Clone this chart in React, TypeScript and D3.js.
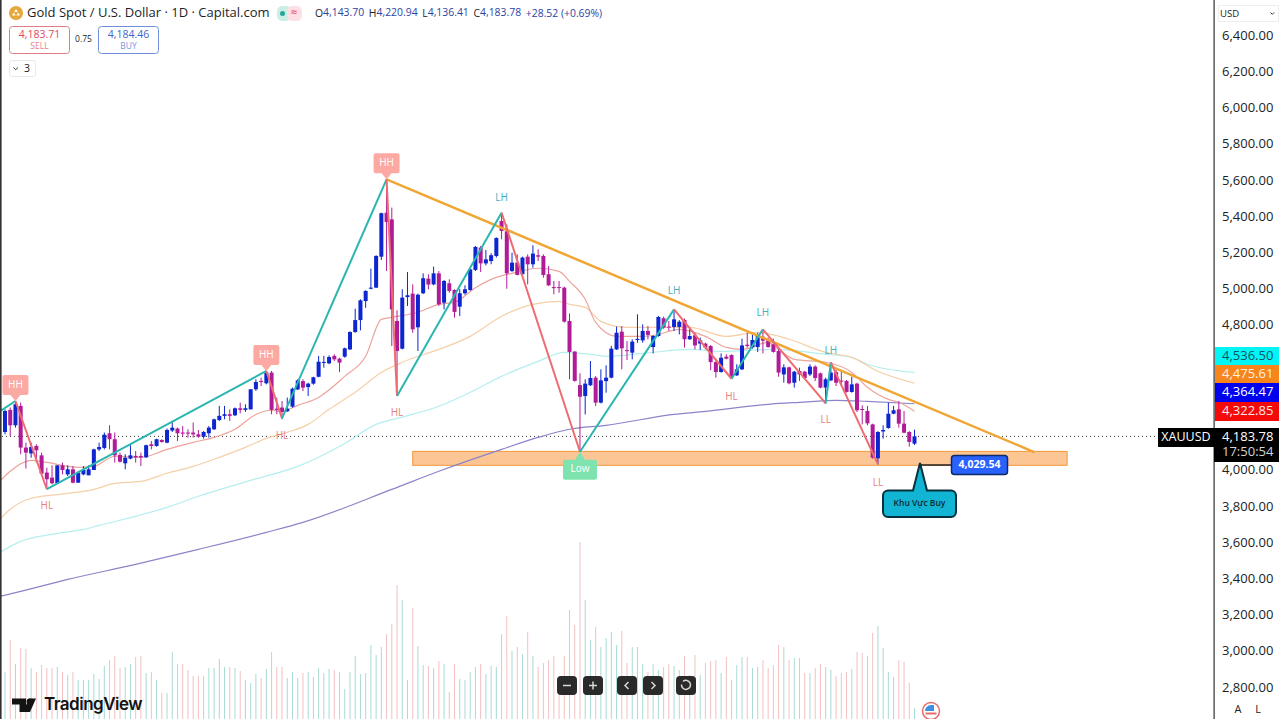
import { useEffect, useRef } from 'react';
import * as d3 from 'd3';

type Candle = [number, number, number, number];
type Pt = [number, number];

// open, high, low, close, one row per daily bar
const candles: Candle[] = [
  [4208,4333,4195,4324],[4330,4343,4186,4245],[4245,4379,4232,4361],[4352,4370,4085,4122],[4122,4149,4006,4094],
  [4090,4149,4066,4125],[4131,4140,4039,4107],[4079,4094,3974,3978],[3984,4011,3895,3947],[3956,4024,3919,3925],
  [3925,4024,3923,4024],[4024,4039,3974,3998],[3974,4024,3965,4002],[4002,4020,3925,3928],[3928,3993,3928,3984],
  [3974,4020,3969,3998],[3969,4024,3969,4002],[3998,4116,3998,4112],[4112,4149,4103,4125],[4120,4205,4112,4193],
  [4201,4245,4112,4168],[4168,4205,4039,4079],[4081,4094,4039,4044],[4035,4085,4002,4066],[4061,4135,4057,4079],
  [4076,4103,4039,4068],[4076,4094,4020,4068],[4068,4138,4065,4135],[4140,4158,4112,4131],[4131,4171,4127,4168],
  [4164,4168,4149,4153],[4149,4227,4146,4219],[4216,4269,4208,4232],[4227,4232,4158,4201],[4205,4241,4182,4199],
  [4205,4223,4177,4199],[4205,4260,4177,4195],[4195,4219,4177,4182],[4182,4214,4171,4208],[4201,4241,4177,4232],
  [4223,4282,4219,4278],[4274,4352,4269,4297],[4297,4352,4278,4306],[4306,4333,4269,4297],[4300,4343,4297,4339],
  [4339,4370,4311,4330],[4330,4361,4319,4339],[4333,4444,4333,4444],[4444,4499,4435,4484],[4490,4508,4462,4484],
  [4477,4545,4471,4536],[4536,4545,4306,4330],[4337,4398,4306,4330],[4343,4379,4278,4319],[4322,4398,4319,4337],
  [4348,4453,4342,4447],[4443,4499,4440,4493],[4489,4499,4434,4453],[4456,4480,4407,4475],[4475,4513,4469,4510],
  [4513,4628,4510,4596],[4590,4628,4563,4595],[4587,4631,4582,4622],[4628,4637,4600,4609],[4613,4618,4539,4591],
  [4624,4674,4618,4670],[4664,4764,4661,4760],[4760,4889,4756,4826],[4826,4941,4769,4935],[4931,4990,4894,4987],
  [4999,5110,4996,5005],[5005,5184,5003,5180],[5176,5419,5158,5416],[5419,5603,5097,5368],[5382,5447,4683,4885],
  [4821,4880,4407,4655],[4668,4996,4664,4950],[4953,5091,4904,4963],[4972,5023,4756,4775],[4786,4972,4655,4966],
  [4974,5084,4970,5057],[5055,5079,4996,5022],[5023,5121,5018,5084],[5084,5097,4904,4913],[4922,5047,4885,5042],
  [5029,5051,4977,4987],[4992,4996,4839,4871],[4900,4996,4848,4974],[4974,5018,4966,4996],[4992,5110,4988,5106],
  [5103,5235,5097,5230],[5226,5235,5091,5139],[5139,5213,5128,5161],[5152,5195,5134,5184],[5180,5283,5171,5279],
  [5373,5419,5272,5318],[5316,5355,4999,5084],[5097,5198,5091,5143],[5143,5189,5073,5075],[5079,5176,5073,5171],
  [5176,5189,5023,5134],[5134,5239,5115,5193],[5184,5217,5152,5176],[5180,5189,5060,5075],[5079,5125,5014,5018],
  [5008,5042,4968,5003],[5008,5042,4977,5003],[5005,5010,4812,4817],[4821,4863,4499,4650],[4652,4655,4486,4490],
  [4467,4532,4099,4403],[4407,4499,4305,4475],[4466,4600,4462,4506],[4508,4517,4351,4370],[4370,4554,4366,4493],
  [4489,4576,4425,4508],[4508,4683,4504,4668],[4664,4790,4661,4756],[4762,4793,4554,4670],[4660,4710,4605,4655],
  [4646,4720,4609,4707],[4716,4858,4701,4722],[4714,4802,4701,4766],[4766,4793,4720,4744],[4677,4742,4642,4738],
  [4738,4849,4734,4843],[4836,4845,4778,4784],[4790,4821,4766,4785],[4788,4885,4766,4830],[4788,4826,4747,4817],
  [4826,4834,4674,4720],[4720,4784,4716,4738],[4742,4756,4664,4686],[4696,4729,4661,4714],[4696,4701,4664,4674],
  [4683,4688,4550,4594],[4594,4600,4508,4539],[4539,4642,4536,4618],[4624,4637,4609,4613],[4633,4637,4502,4517],
  [4521,4582,4517,4554],[4554,4723,4550,4686],[4690,4756,4674,4683],[4675,4747,4668,4716],[4677,4756,4650,4738],
  [4734,4775,4642,4712],[4716,4729,4674,4677],[4692,4723,4646,4650],[4655,4664,4513,4536],[4526,4582,4480,4565],
  [4565,4569,4471,4477],[4480,4545,4453,4541],[4545,4563,4490,4526],[4541,4545,4499,4506],[4526,4582,4517,4569],
  [4569,4576,4489,4506],[4532,4536,4449,4453],[4453,4508,4366,4499],[4493,4591,4489,4536],[4539,4550,4462,4480],
  [4492,4539,4462,4488],[4490,4495,4425,4429],[4429,4514,4425,4471],[4475,4480,4318,4328],[4335,4355,4250,4330],
  [4324,4352,4245,4256],[4250,4254,4061,4066],[4063,4213,4029,4208],[4211,4245,4171,4219],[4230,4370,4226,4309],
  [4309,4352,4306,4328],[4333,4379,4232,4254],[4254,4324,4201,4204],[4208,4213,4127,4153],[4143.7,4220.94,4136.41,4183.78],
];

// relative volume per bar
const volumes = [
  47,79,55,71,70,51,47,54,51,51,52,47,44,47,39,39,39,45,40,53,
  59,63,51,52,55,62,63,46,47,39,26,26,67,55,55,49,43,43,43,51,
  51,60,52,52,51,48,39,36,45,41,50,67,52,52,41,47,41,46,47,42,
  51,46,50,49,47,30,47,63,45,46,74,64,72,85,95,134,119,39,111,73,
  54,53,51,58,55,27,55,40,39,47,52,55,45,53,52,85,103,68,72,65,
  87,63,52,56,59,63,42,63,109,94,177,119,79,92,72,81,87,74,88,56,
  72,72,55,47,55,49,52,55,53,49,63,44,64,44,56,58,59,46,62,39,
  54,62,62,51,52,59,51,54,74,72,59,61,61,46,46,51,55,52,49,43,
  46,47,50,67,66,63,86,93,71,47,42,59,57,36,11,
];

// moving averages as [bar index, price] readings
const redMa: Pt[] = [[-1,3935],[1,3991],[5,4051],[8,4040],[14,4013],[17,4018],[21,4074],[26,4068],[31,4112],[36,4151],[40,4178],[44,4223],[48,4305],[51,4328],[53,4322],[56,4355],[60,4399],[65,4515],[69,4626],[72,4830],[74,4841],[79,4869],[83,4913],[86,4924],[90,5005],[94,5062],[97,5084],[102,5112],[106,5095],[108,5040],[111,4941],[113,4813],[117,4736],[122,4736],[125,4747],[129,4775],[134,4736],[138,4675],[141,4664],[146,4703],[148,4664],[151,4609],[157,4593],[162,4537],[165,4455],[169,4388],[171,4372],[174,4323]];
const orangeMa: Pt[] = [[-1,3726],[1,3781],[5,3842],[12,3869],[17,3891],[21,3924],[26,3935],[31,3980],[36,4018],[41,4068],[46,4123],[50,4173],[54,4206],[58,4250],[62,4333],[67,4427],[72,4537],[76,4593],[83,4664],[89,4736],[95,4847],[101,4913],[106,4929],[108,4913],[111,4896],[114,4819],[119,4786],[125,4786],[131,4786],[138,4736],[144,4758],[150,4720],[157,4648],[162,4620],[167,4543],[174,4477]];
const cyanMa: Pt[] = [[-1,3543],[3,3604],[9,3643],[15,3670],[18,3692],[31,3792],[37,3853],[47,3941],[56,4018],[65,4145],[71,4250],[76,4290],[83,4350],[89,4427],[95,4515],[102,4598],[107,4648],[112,4637],[115,4626],[122,4642],[131,4664],[137,4653],[147,4664],[157,4637],[162,4620],[165,4582],[174,4537]];
const purpleMa: Pt[] = [[-1,3300],[3,3328],[12,3394],[25,3477],[37,3560],[50,3654],[57,3709],[74,3891],[83,3991],[95,4112],[102,4178],[108,4223],[115,4245],[128,4305],[134,4322],[146,4361],[152,4372],[159,4383],[165,4377],[174,4364]];

// swing pivots joined by the zigzag, and the falling trendline
const pivots: Pt[] = [[-1,4322],[2,4379],[8,3892],[50,4545],[53,4283],[73,5603],[75,4407],[95,5419],[110,4099],[128,4885],[139,4502],[145,4775],[157,4366],[158,4592],[167,4029]];
const trendline: Pt[] = [[73,5603],[197,4096]];
const buyZone = { from: 78, to: 203.2, top: 4101, bottom: 4024 };

const priceTicks = [6400,6200,6000,5800,5600,5400,5200,5000,4800,4000,3800,3600,3400,3200,3000,2800];

const swingLabels: [string, number, number][] = [
  ['LH',95,5500],['LH',128,4985],['LH',145,4865],['LH',158,4655],
  ['HL',8,3797],['HL',53,4185],['HL',75,4310],['HL',139,4400],
  ['LL',157,4275],['LL',167,3922],
];
const tagLabels: [string, number, number][] = [['HH',2,4379],['HH',50,4545],['HH',73,5603]];

const priceTags: [string, string, string, number, number][] = [
  ['4,536.50','#00f5f5','#0b5560',347,365],
  ['4,475.61','#f7851c','#fff3e0',365,383],
  ['4,364.47','#0000f0','#ffffff',383,402],
  ['4,322.85','#f50a0a','#ffe8e8',402,421],
];

const FONT = '"Open Sans", "Noto Sans", sans-serif';
const BLUE = '#0d26d0';
const MAGENTA = '#b01c98';

export default function App() {
  const axisRef = useRef<SVGGElement>(null);

  const x = d3.scaleLinear().domain([0, 174]).range([5, 914.5]);
  const y = d3.scaleLinear().domain([6400, 2800]).range([35, 687]);
  const vol = d3.scaleLinear().domain([0, 177]).range([719, 542]);
  const line = d3.line<Pt>().x(d => x(d[0])).y(d => y(d[1]));
  const maLine = d3.line<Pt>().x(d => x(d[0])).y(d => y(d[1])).curve(d3.curveMonotoneX);
  const lastClose = candles[candles.length - 1][3];

  useEffect(() => {
    if (!axisRef.current) return;
    d3.select(axisRef.current)
      .call(d3.axisRight(y).tickValues(priceTicks).tickSize(0).tickPadding(8).tickFormat(d3.format(',.2f') as never))
      .call(g => g.select('.domain').remove())
      .call(g => g.selectAll('text')
        .attr('fill', '#222').attr('font-size', 13).attr('font-family', FONT).attr('dy', '0.24em'));
  }, []);

  const zig = pivots.slice(1).map((p, i) => ({ a: pivots[i], b: p, up: p[1] > pivots[i][1] }));

  return (
    <svg width={1279} height={719} viewBox="0 0 1279 719"
      style={{ position: 'absolute', left: 0, top: 0, background: '#fff', display: 'block' }} fontFamily={FONT}>
      <g>
        {volumes.map((v, i) => (
          <rect key={i} x={x(i) - 0.5} width={1} y={vol(v)} height={719 - vol(v)}
            fill={candles[i][3] >= candles[i][0] ? '#a9dad4' : '#f3c0c0'} />
        ))}
      </g>

      <rect x={x(buyZone.from)} width={x(buyZone.to) - x(buyZone.from)} y={y(buyZone.top)} height={y(buyZone.bottom) - y(buyZone.top)}
        fill="#fbc594" stroke="#f2983c" strokeWidth={1} />

      <line x1={2} x2={1158} y1={y(lastClose)} y2={y(lastClose)} stroke="#333" strokeWidth={1} strokeDasharray="1 3" />

      <path d={maLine(purpleMa)!} fill="none" stroke="#8d84c8" strokeWidth={1.2} />
      <path d={maLine(cyanMa)!} fill="none" stroke="#b4eeee" strokeWidth={1.2} />
      <path d={maLine(orangeMa)!} fill="none" stroke="#f6cfa8" strokeWidth={1.2} />
      <path d={maLine(redMa)!} fill="none" stroke="#eda49c" strokeWidth={1.2} />

      <g>
        {candles.map(([o, h, l, c], i) => {
          const up = c >= o;
          const top = y(Math.max(o, c));
          const bottom = y(Math.min(o, c));
          const color = up ? BLUE : MAGENTA;
          return (
            <g key={i}>
              <line x1={x(i)} x2={x(i)} y1={y(h)} y2={y(l)} stroke={color} strokeWidth={1} />
              <rect x={x(i) - 2} width={4} y={top} height={Math.max(1, bottom - top)} fill={color} />
            </g>
          );
        })}
      </g>

      <path d={line(trendline)!} fill="none" stroke="#f0a634" strokeWidth={2.5} />
      {zig.map((s, i) => (
        <path key={i} d={line([s.a, s.b])!} fill="none" stroke={s.up ? '#2ab6b0' : '#ee6c70'} strokeWidth={2} />
      ))}

      {swingLabels.map(([t, i, p], k) => (
        <text key={k} x={x(i)} y={y(p)} textAnchor="middle" dominantBaseline="middle" fontSize={10}
          fill={t === 'LH' ? '#45aebb' : '#e77f7f'}>{t}</text>
      ))}
      {tagLabels.map(([t, i, p], k) => {
        const tx = x(i), ty = y(p);
        return (
          <g key={k}>
            <path d={`M${tx - 13},${ty - 24} a2,2 0 0 1 2,-2 h22 a2,2 0 0 1 2,2 v16 a2,2 0 0 1 -2,2 h-6 l-5,6 l-5,-6 h-6 a2,2 0 0 1 -2,-2 z`} fill="#fca9a4" />
            <text x={tx} y={ty - 16} textAnchor="middle" dominantBaseline="middle" fontSize={10} fill="#fff">{t}</text>
          </g>
        );
      })}
      <g>
        <path d={`M${x(110) - 15},${y(4099) + 8} h10 l5,-8 l5,8 h10 a2,2 0 0 1 2,2 v16 a2,2 0 0 1 -2,2 h-30 a2,2 0 0 1 -2,-2 v-16 a2,2 0 0 1 2,-2 z`} fill="#7fe3b0" />
        <text x={x(110)} y={y(4099) + 18} textAnchor="middle" dominantBaseline="middle" fontSize={10} fill="#fff">Low</text>
      </g>

      {/* buy zone callouts */}
      <line x1={920} x2={952} y1={465} y2={465} stroke="#222" strokeWidth={1.5} />
      <rect x={951.5} y={455.5} width={56} height={19} rx={3} fill="#2962ff" stroke="#0d2a66" strokeWidth={1.5} />
      <text x={979.5} y={465.5} textAnchor="middle" dominantBaseline="middle" fontSize={10.5} fontWeight={700} fill="#fff">4,029.54</text>
      <path d="M888,490.5 H913 L920,463 L927,490.5 H951 a5,5 0 0 1 5,5 V512 a5,5 0 0 1 -5,5 H888 a5,5 0 0 1 -5,-5 V495.5 a5,5 0 0 1 5,-5 z"
        fill="#12b4d4" stroke="#08303c" strokeWidth={2} />
      <text x={919.5} y={504} textAnchor="middle" dominantBaseline="middle" fontSize={8.5} fontWeight={600} fill="#0a2a33">Khu Vực Buy</text>

      {/* price scale */}
      <rect x={1214} y={0} width={65} height={719} fill="#fff" />
      <rect x={0} y={0} width={1.6} height={719} fill="#333" />
      <rect x={1213.5} y={0} width={1.2} height={719} fill="#333" />
      <g ref={axisRef} transform="translate(1214,1)" />
      <rect x={1218.5} y={5.5} width={60} height={16} fill="#fff" stroke="#eee" />
      <text x={1220} y={14} dominantBaseline="middle" fontSize={9.5} fill="#222">USD</text>
      <path d="M1270.5,12.5 l1.8,1.8 l1.8,-1.8" fill="none" stroke="#333" />
      {priceTags.map(([t, bg, fg, a, b]) => (
        <g key={t}>
          <rect x={1215} y={a} width={64} height={b - a} fill={bg} />
          <text x={1222} y={(a + b) / 2 + 0.5} dominantBaseline="middle" fontSize={13} fill={fg}>{t}</text>
        </g>
      ))}
      <rect x={1158} y={428} width={56} height={19} fill="#000" />
      <text x={1186} y={438} textAnchor="middle" dominantBaseline="middle" fontSize={12.5} fill="#fff">XAUUSD</text>
      <rect x={1214} y={428} width={65} height={34} fill="#000" />
      <text x={1222} y={437.5} dominantBaseline="middle" fontSize={13} fill="#fff">4,183.78</text>
      <text x={1222} y={453} dominantBaseline="middle" fontSize={13} fill="#d4d4d4">17:50:54</text>
      <text x={1238} y={710} textAnchor="middle" dominantBaseline="middle" fontSize={11} fill="#222">A</text>
      <text x={1258} y={710} textAnchor="middle" dominantBaseline="middle" fontSize={11} fill="#222">L</text>

      {/* legend */}
      <circle cx={16} cy={13} r={7} fill="#e5a83a" />
      <path d="M12,15.5 h3.6 l-1.8,-3 z M16.4,15.5 h3.6 l-1.8,-3 z M14.2,12 h3.6 l-1.8,-3 z" fill="#fff" />
      <text x={27} y={13.5} dominantBaseline="middle" fontSize={13} fill="#1c1f2a">Gold Spot / U.S. Dollar · 1D · Capital.com</text>
      <rect x={277} y={6} width={14} height={15} rx={5} fill="#cdeee6" />
      <rect x={287} y={6} width={15} height={15} rx={5} fill="#fde0e6" />
      <circle cx={282.5} cy={13.5} r={2.5} fill="#26a69a" />
      <text x={294} y={13.5} textAnchor="middle" dominantBaseline="middle" fontSize={11} fontWeight={700} fill="#f06a8a">≈</text>
      <text x={315} y={13.5} dominantBaseline="middle" fontSize={10.4} fill="#2b3fa6">
        <tspan fill="#222">O</tspan>4,143.70 <tspan fill="#222" dx={2}>H</tspan>4,220.94 <tspan fill="#222" dx={2}>L</tspan>4,136.41 <tspan fill="#222" dx={2}>C</tspan>4,183.78 <tspan dx={2}>+28.52 (+0.69%)</tspan>
      </text>
      <rect x={9.5} y={26.5} width={60} height={27} rx={3} fill="#fff" stroke="#e37a86" />
      <text x={39.5} y={35} textAnchor="middle" dominantBaseline="middle" fontSize={10.5} fill="#dd4a5e">4,183.71</text>
      <text x={39.5} y={46.5} textAnchor="middle" dominantBaseline="middle" fontSize={8.5} fill="#ea7f8d">SELL</text>
      <text x={83.5} y={40} textAnchor="middle" dominantBaseline="middle" fontSize={8.5} fill="#222">0.75</text>
      <rect x={98.5} y={26.5} width={60} height={27} rx={3} fill="#fff" stroke="#6f8fdc" />
      <text x={128.5} y={35} textAnchor="middle" dominantBaseline="middle" fontSize={10.5} fill="#3f66cc">4,184.46</text>
      <text x={128.5} y={46.5} textAnchor="middle" dominantBaseline="middle" fontSize={8.5} fill="#7b98e0">BUY</text>
      <rect x={9.5} y={60.5} width={26} height={16} rx={2} fill="#fff" stroke="#e8e8e8" />
      <path d="M13.5,67.5 l2.2,2.2 l2.2,-2.2" fill="none" stroke="#333" />
      <text x={24} y={69} dominantBaseline="middle" fontSize={10.5} fill="#222">3</text>

      {/* chart controls */}
      {[557, 583, 617, 643, 676].map(bx => (
        <rect key={bx} x={bx} y={676} width={20} height={19} rx={4} fill="#2a2a2a" />
      ))}
      <g fill="none" stroke="#d8d8d8" strokeWidth={1.5}>
        <path d="M563,685.5 h8" />
        <path d="M589,685.5 h8 M593,681.5 v8" />
        <path d="M628.5,682 l-3.5,3.5 l3.5,3.5" />
        <path d="M651.5,682 l3.5,3.5 l-3.5,3.5" />
        <path d="M683,681.5 a4.5,4.5 0 1 1 -1.5,3" />
      </g>

      {/* logo */}
      <path d="M12,698.5 h14 v13.5 h-6.5 v-7.5 h-7.5 z" fill="#131313" />
      <circle cx={29.5} cy={701.5} r={3} fill="#131313" />
      <path d="M29,712 l6,-13.5 h7 l-6,13.5 z" fill="#131313" transform="translate(-6,0)" />
      <text x={44} y={705.5} dominantBaseline="middle" fontSize={17} fontWeight={600} fontFamily="Inter, sans-serif" fill="#131313" letterSpacing={-0.5}>TradingView</text>

      {/* economic calendar flag */}
      <circle cx={931} cy={711} r={8.5} fill="#fff" stroke="#e86a6a" strokeWidth={1.5} />
      <path d="M925,711 a6,6 0 0 1 6,-6 h3 v6 z" fill="#3f8fe0" />
      <path d="M925.5,713.5 h11" stroke="#e86a6a" strokeWidth={2} />
    </svg>
  );
}
